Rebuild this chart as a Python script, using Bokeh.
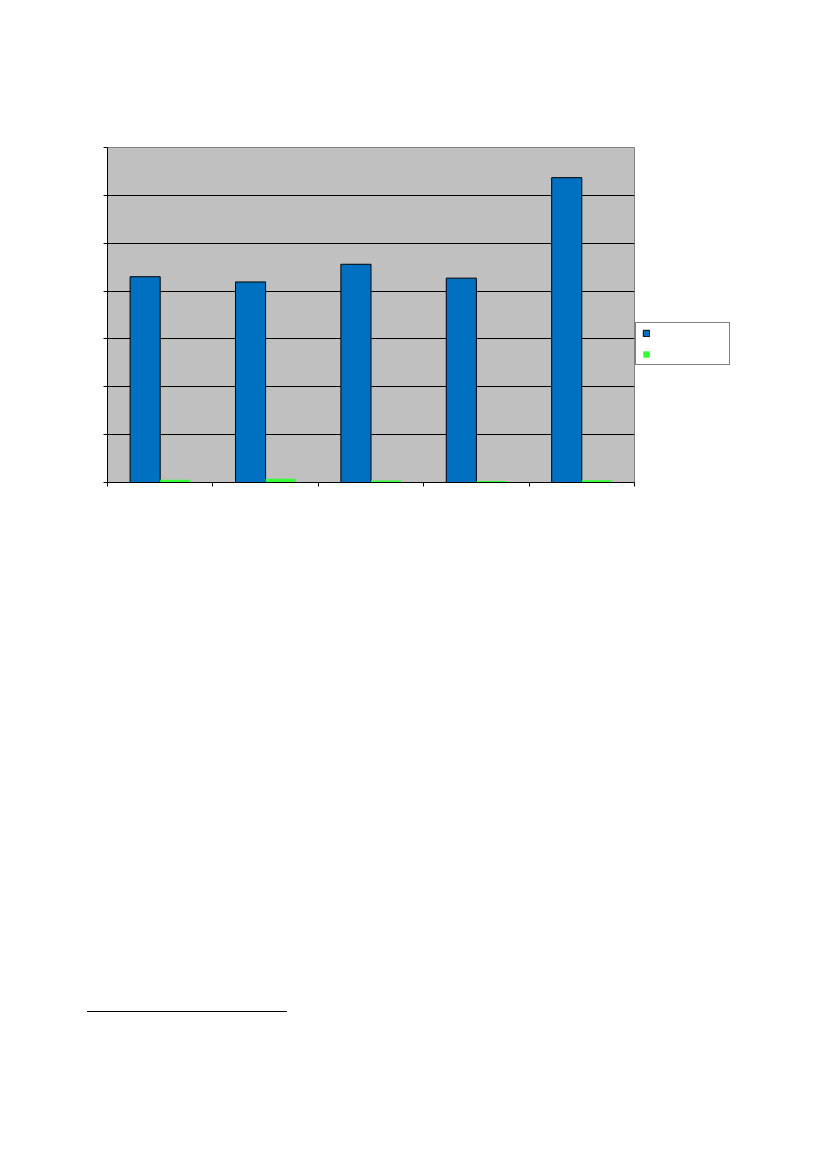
from bokeh.plotting import figure
from bokeh.models import (ColumnDataSource, Legend, LegendItem, FixedTicker,
                          Range1d, Div)
from bokeh.layouts import column
from bokeh.embed import file_html
from bokeh.resources import INLINE

# ---- data (the reference shows no text labels) ----
categories = ["A", "B", "C", "D", "E"]
series_names = ["Series 1", "Series 2"]
series1_values = [4.30, 4.19, 4.56, 4.27, 6.37]
series2_values = [0.06, 0.08, 0.04, 0.03, 0.045]
y_ticks = [0, 1, 2, 3, 4, 5, 6, 7]

BLUE = "#0070C0"
GREEN = "#33FF33"
BAR_W = 1 / 3.5          # Excel-style 150% gap width, two series
OFF = BAR_W / 2

idx = list(range(len(categories)))
src = ColumnDataSource(dict(
    cat=categories,
    x1=[i + 0.5 - OFF for i in idx],
    x2=[i + 0.5 + OFF for i in idx],
    s1=series1_values,
    s2=series2_values,
))

p = figure(output_backend="svg", toolbar_location=None,
           frame_width=527, frame_height=335,
           min_border_left=107, min_border_right=177,
           min_border_top=147, min_border_bottom=46,
           x_range=Range1d(0, len(categories)),
           y_range=Range1d(y_ticks[0], y_ticks[-1]),
           border_fill_color="white")
p.background_fill_color = "#C0C0C0"
p.outline_line_color = "#808080"
p.outline_line_width = 1

r1 = p.vbar(x="x1", top="s1", width=BAR_W, bottom=0, source=src,
            fill_color=BLUE, line_color="black", line_width=1)
r2 = p.vbar(x="x2", top="s2", width=BAR_W, bottom=0, source=src,
            fill_color=GREEN, line_color=None)

# axes: no visible labels in the reference
p.xaxis.ticker = FixedTicker(ticks=list(range(len(categories) + 1)))
p.yaxis.ticker = FixedTicker(ticks=y_ticks)
p.xaxis.major_label_overrides = {i: "" for i in range(len(categories) + 1)}
p.yaxis.major_label_overrides = {t: "" for t in y_ticks}
for ax in (p.xaxis[0], p.yaxis[0]):
    ax.axis_line_color = "black"
    ax.axis_line_width = 1
    ax.major_tick_line_color = "black"
    ax.major_tick_in = 0
    ax.major_tick_out = 4
    ax.minor_tick_line_color = None
    ax.major_label_text_font_size = "1px"

p.xgrid.grid_line_color = None
p.ygrid.grid_line_color = "black"
p.ygrid.grid_line_width = 1
p.ygrid.ticker = FixedTicker(ticks=y_ticks)

legend = Legend(items=[LegendItem(label=" ", renderers=[r1]),
                       LegendItem(label=" ", renderers=[r2])],
                location=(1, 117))
legend.border_line_color = "black"
legend.border_line_width = 1
legend.background_fill_color = "white"
legend.background_fill_alpha = 1
legend.glyph_width = 8
legend.glyph_height = 8
legend.label_height = 8
legend.label_width = 68
legend.label_standoff = 5
legend.label_text_font_size = "5px"
legend.padding = 6
legend.spacing = 13
legend.margin = 0
p.add_layout(legend, "right")

foot = Div(width=811, height=500,
           text='<div style="margin-left:82px; margin-top:478px; width:200px; '
                'height:0; border-top:1px solid black;"></div>')

layout = column(p, foot, spacing=0)

open("out.html", "w").write(file_html(layout, INLINE))
